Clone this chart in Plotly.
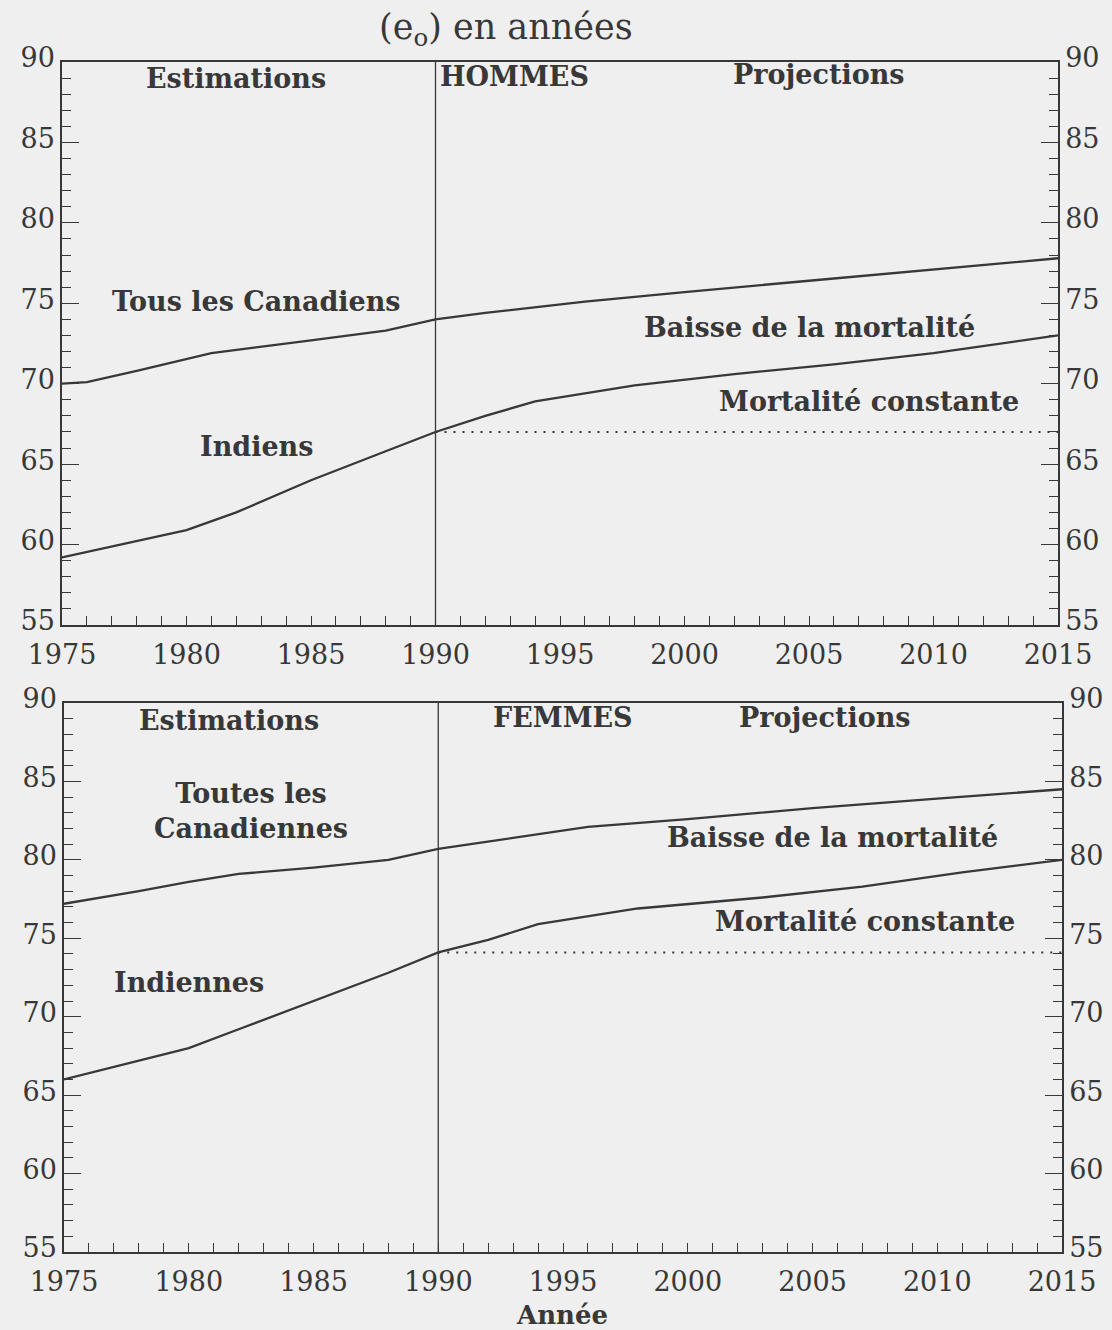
import plotly.graph_objects as go

# Espérance de vie à la naissance (e0), Canada vs Indiens inscrits
annees_h = [1975, 1976, 1978, 1981, 1985, 1988, 1990, 1992, 1996, 2000, 2005, 2010, 2015]
canadiens = [70.0, 70.1, 70.8, 71.9, 72.7, 73.3, 74.0, 74.4, 75.1, 75.7, 76.4, 77.1, 77.8]

annees_ih = [1975, 1980, 1982, 1985, 1988, 1990, 1992, 1994, 1998, 2002, 2006, 2010, 2015]
indiens = [59.2, 60.9, 62.0, 64.0, 65.8, 67.0, 68.0, 68.9, 69.9, 70.6, 71.2, 71.9, 73.0]

annees_f = [1975, 1978, 1980, 1982, 1985, 1988, 1990, 1993, 1996, 2000, 2005, 2010, 2015]
canadiennes = [77.2, 78.0, 78.6, 79.1, 79.5, 80.0, 80.7, 81.4, 82.1, 82.6, 83.3, 83.9, 84.5]

annees_if = [1975, 1980, 1982, 1985, 1988, 1990, 1992, 1994, 1998, 2003, 2007, 2011, 2015]
indiennes = [66.0, 68.0, 69.2, 71.0, 72.8, 74.1, 74.9, 75.9, 76.9, 77.6, 78.3, 79.2, 80.0]

# mortalité constante après 1990
annees_const = [1990, 2015]
const_h = [67.0, 67.0]
const_f = [74.1, 74.1]

x_ticks = [1975, 1980, 1985, 1990, 1995, 2000, 2005, 2010, 2015]
y_ticks = [55, 60, 65, 70, 75, 80, 85, 90]

INK = "#383838"
BG = "#efefef"
SERIF = "DejaVu Serif"

fig = go.Figure()

line = dict(color=INK, width=2.3)
dots = dict(color=INK, width=2, dash="2px,7px")

fig.add_trace(go.Scatter(x=annees_h, y=canadiens, xaxis="x", yaxis="y", mode="lines", line=line))
fig.add_trace(go.Scatter(x=annees_ih, y=indiens, xaxis="x", yaxis="y", mode="lines", line=line))
fig.add_trace(go.Scatter(x=annees_const, y=const_h, xaxis="x", yaxis="y", mode="lines", line=dots))

fig.add_trace(go.Scatter(x=annees_f, y=canadiennes, xaxis="x2", yaxis="y2", mode="lines", line=line))
fig.add_trace(go.Scatter(x=annees_if, y=indiennes, xaxis="x2", yaxis="y2", mode="lines", line=line))
fig.add_trace(go.Scatter(x=annees_const, y=const_f, xaxis="x2", yaxis="y2", mode="lines", line=dots))

# traces invisibles pour les axes de droite
fig.add_trace(go.Scatter(x=annees_h, y=canadiens, xaxis="x", yaxis="y3", mode="lines", opacity=0, hoverinfo="skip"))
fig.add_trace(go.Scatter(x=annees_f, y=canadiennes, xaxis="x2", yaxis="y4", mode="lines", opacity=0, hoverinfo="skip"))

tickfont = dict(family=SERIF, size=27, color=INK)


def x_axis(domain, anchor):
    return dict(
        domain=domain, anchor=anchor, range=[1975, 2015],
        tickvals=x_ticks, ticks="inside", ticklen=9, tickwidth=1.3, tickcolor=INK,
        minor=dict(dtick=1, tick0=1975, ticks="inside", ticklen=9, tickwidth=1.3, tickcolor=INK),
        showline=True, linecolor=INK, linewidth=1.5, mirror=True,
        showgrid=False, zeroline=False, tickfont=tickfont, automargin=False,
        ticklabelstandoff=5,
    )


def y_axis(domain, anchor, side="left", overlaying=None):
    d = dict(
        domain=domain, anchor=anchor, range=[55, 90], side=side,
        tickvals=y_ticks, ticks="inside", ticklen=17, tickwidth=1.3, tickcolor=INK,
        minor=dict(dtick=1, tick0=55, ticks="inside", ticklen=9, tickwidth=1.3, tickcolor=INK),
        showline=True, linecolor=INK, linewidth=1.5,
        showgrid=False, zeroline=False, tickfont=tickfont, automargin=False,
        ticklabelshift=-4,
    )
    if overlaying:
        d["overlaying"] = overlaying
    return d


W, H = 1112, 1330
top_x = [62 / W, 1058 / W]
top_y = [1 - 625 / H, 1 - 62 / H]
bot_x = [64 / W, 1062 / W]
bot_y = [1 - 1252 / H, 1 - 703 / H]

fig.update_layout(
    width=W, height=H,
    margin=dict(l=0, r=0, t=0, b=0),
    paper_bgcolor=BG, plot_bgcolor=BG,
    showlegend=False,
    xaxis=x_axis(top_x, "y"),
    yaxis=y_axis(top_y, "x"),
    yaxis3=y_axis(top_y, "x", side="right", overlaying="y"),
    xaxis2=x_axis(bot_x, "y2"),
    yaxis2=y_axis(bot_y, "x2"),
    yaxis4=y_axis(bot_y, "x2", side="right", overlaying="y2"),
)

# séparation estimations / projections
for xr, yr in (("x", "y"), ("x2", "y2")):
    fig.add_shape(type="line", xref=xr, yref=yr, x0=1990, x1=1990, y0=55, y1=90,
                  line=dict(color=INK, width=1.3))

lab = dict(family=SERIF, size=27, color=INK, weight="bold")

notes = [
    ("x", "y", 1982.0, 89.0, "Estimations", "center"),
    ("x", "y", 1990.1, 89.1, "HOMMES", "left"),
    ("x", "y", 2005.4, 89.2, "Projections", "center"),
    ("x", "y", 1982.8, 75.1, "Tous les Canadiens", "center"),
    ("x", "y", 1982.8, 66.1, "Indiens", "center"),
    ("x", "y", 2005.0, 73.5, "Baisse de la mortalité", "center"),
    ("x", "y", 2007.4, 68.9, "Mortalité constante", "center"),
    ("x2", "y2", 1981.6, 88.9, "Estimations", "center"),
    ("x2", "y2", 1995.0, 89.1, "FEMMES", "center"),
    ("x2", "y2", 2005.5, 89.1, "Projections", "center"),
    ("x2", "y2", 1982.5, 83.1, "Toutes les<br>Canadiennes", "center"),
    ("x2", "y2", 1980.0, 72.2, "Indiennes", "center"),
    ("x2", "y2", 2005.8, 81.4, "Baisse de la mortalité", "center"),
    ("x2", "y2", 2007.1, 76.1, "Mortalité constante", "center"),
]
for xr, yr, x, y, t, al in notes:
    fig.add_annotation(xref=xr, yref=yr, x=x, y=y, text=t, showarrow=False,
                       xanchor=al, yanchor="middle", font=lab, align="center")

fig.add_annotation(xref="paper", yref="paper", x=506 / W, y=1 - 30 / H,
                   xanchor="center", yanchor="middle",
                   text="(e<sub>o</sub>) en années", showarrow=False,
                   font=dict(family=SERIF, size=35, color=INK))
fig.add_annotation(xref="paper", yref="paper", x=562 / W, y=1 - 1315 / H,
                   xanchor="center", yanchor="middle",
                   text="Année", showarrow=False, font=dict(family=SERIF, size=26, color=INK, weight="bold"))

# pas de marge blanche autour du graphique, pas de barre d'outils
fig.write_html(
    "out.html",
    config={"displayModeBar": False},
    post_script="document.body.style.margin='0';document.body.style.background='#efefef';",
)
